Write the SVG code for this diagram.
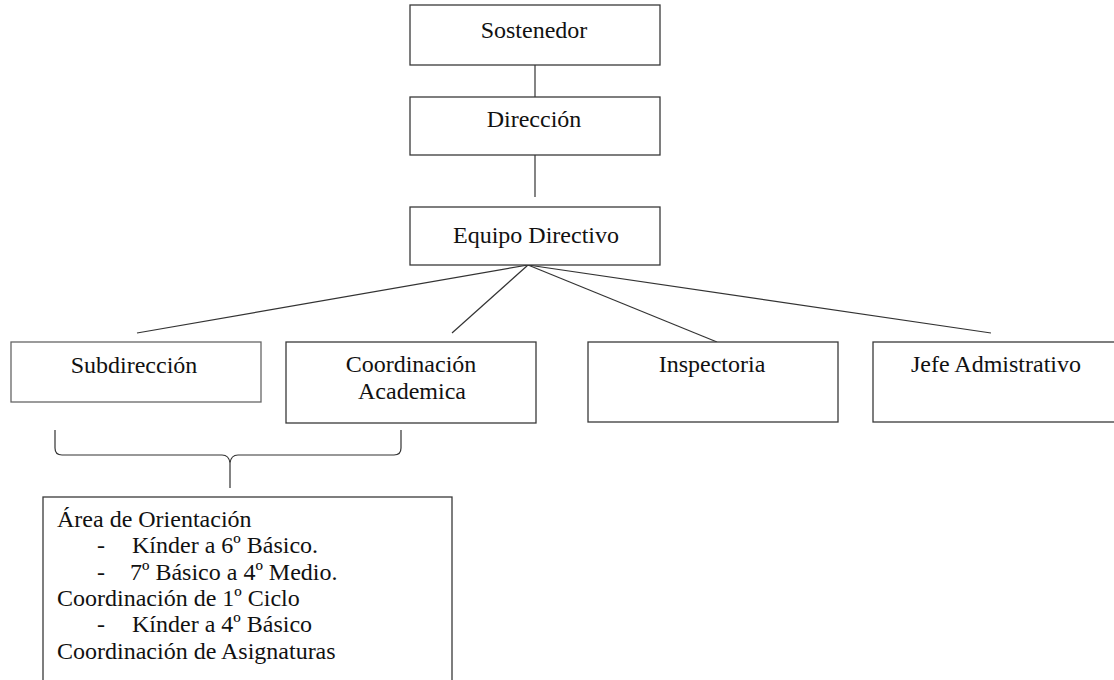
<svg xmlns="http://www.w3.org/2000/svg" width="1114" height="680" viewBox="0 0 1114 680">
<style>
.box{fill:#fff;stroke:#3a3a3a;stroke-width:1.3}
text{font-family:'Liberation Serif',serif;font-size:24px;fill:#111}
.c{text-anchor:middle}
.ln{stroke:#333;stroke-width:1.2;fill:none}
</style>
<rect width="1114" height="680" fill="#fff"/>
<g id="connectors">
<line class="ln" x1="535" y1="65" x2="535" y2="97"/>
<line class="ln" x1="535" y1="155" x2="535" y2="197"/>
<line class="ln" x1="528" y1="265" x2="137" y2="333"/>
<line class="ln" x1="528" y1="265" x2="452" y2="333"/>
<line class="ln" x1="528" y1="265" x2="717" y2="342"/>
<line class="ln" x1="528" y1="265" x2="991" y2="333"/>
<path class="ln" d="M55,430 V448 Q55,455 62,455 H222 Q229,455 230,463 Q231,455 238,455 H394 Q401,455 401,448 V430 M230,463 V488"/>
</g>
<g id="sostenedor">
<rect class="box" x="410" y="5" width="250" height="60"/>
<text class="c" x="534" y="38" font-family="Liberation Serif">Sostenedor</text>
</g>
<g id="direccion">
<rect class="box" x="410" y="97" width="250" height="58"/>
<text class="c" x="534" y="127" font-family="Liberation Serif">Dirección</text>
</g>
<g id="equipo">
<rect class="box" x="410" y="207" width="250" height="58"/>
<text class="c" x="536" y="243" font-family="Liberation Serif">Equipo Directivo</text>
</g>
<g id="subdireccion">
<rect class="box" x="11" y="342" width="250" height="60" style="stroke:#666"/>
<text class="c" x="134" y="373" font-family="Liberation Serif">Subdirección</text>
</g>
<g id="coordinacion">
<rect class="box" x="286" y="342" width="250" height="81"/>
<text class="c" x="411" y="372" font-family="Liberation Serif">Coordinación</text>
<text class="c" x="412" y="399" font-family="Liberation Serif">Academica</text>
</g>
<g id="inspectoria">
<rect class="box" x="588" y="342" width="250" height="80"/>
<text class="c" x="712" y="372" font-family="Liberation Serif">Inspectoria</text>
</g>
<g id="jefe">
<rect class="box" x="873" y="342" width="250" height="80"/>
<text class="c" x="996" y="372" font-family="Liberation Serif">Jefe Admistrativo</text>
</g>
<g id="areas" font-family="Liberation Serif">
<rect class="box" x="43" y="497" width="409" height="200"/>
<text x="57" y="527">Área de Orientación</text>
<text x="97" y="553">-</text>
<text x="132" y="553">Kínder a 6º Básico.</text>
<text x="97" y="580">-</text>
<text x="130" y="580">7º Básico a 4º Medio.</text>
<text x="57" y="606">Coordinación de 1º Ciclo</text>
<text x="97" y="632">-</text>
<text x="132" y="632">Kínder a 4º Básico</text>
<text x="57" y="659">Coordinación de Asignaturas</text>
</g>
</svg>
